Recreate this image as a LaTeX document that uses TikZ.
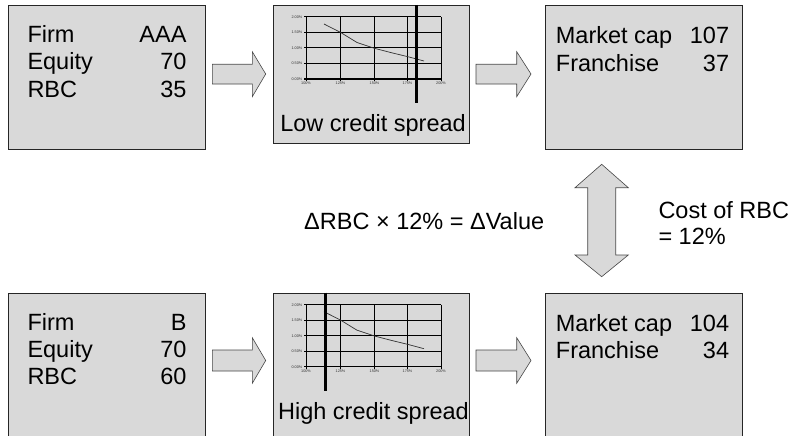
\documentclass[tikz,border=0pt]{standalone}
\usepackage{fontspec}
\setmainfont{Liberation Sans}
\definecolor{boxfill}{RGB}{217,217,217}
\definecolor{arrowline}{RGB}{70,70,70}
\begin{document}
\begin{tikzpicture}[x=1pt,y=-1pt,
  panel/.style={draw=black!85, line width=0.8pt, fill=boxfill, anchor=north west, inner sep=0pt, minimum width=196.5pt},
  txt/.style={font=\fontsize{23.5}{27}\selectfont, inner sep=0pt},
  blockarrow/.style={draw=arrowline, line width=0.6pt, fill=boxfill, line join=miter},
  grid/.style={draw=black, line width=1pt},
  tiny/.style={font=\fontsize{3.8}{4.5}\selectfont, inner sep=0.5pt, text=black!80},
  curve/.style={draw=black!80, line width=0.7pt},
  marker/.style={draw=black, line width=3.2pt}]
\useasboundingbox (0,0) rectangle (795,436);
\clip (0,0) rectangle (795,436);

% ---------- panels ----------
\node[panel, minimum height=144pt] (firmA) at (8.3,5) {};
\node[panel, minimum height=138pt] (chartA) at (272.7,5) {};
\node[panel, minimum height=144pt] (valA) at (545,5) {};
\node[panel, minimum height=160pt] (firmB) at (8.3,292.7) {};
\node[panel, minimum height=160pt] (chartB) at (272.7,292.7) {};
\node[panel, minimum height=160pt] (valB) at (545,292.7) {};

% ---------- texts top row ----------
\node[txt, anchor=base west] (a1) at (27.3,43) {Firm};
\node[txt, anchor=base east] (a1v) at (186.7,43) {AAA};
\node[txt, anchor=base west] (a2) at (27.3,70) {Equity};
\node[txt, anchor=base east] (a2v) at (186.7,70) {70};
\node[txt, anchor=base west] (a3) at (27.3,97) {RBC};
\node[txt, anchor=base east] (a3v) at (186.7,97) {35};

\node[txt, anchor=base west] (c1) at (555.7,43.3) {Market cap};
\node[txt, anchor=base east] (c1v) at (729.3,43.3) {107};
\node[txt, anchor=base west] (c2) at (555.7,71) {Franchise};
\node[txt, anchor=base east] (c2v) at (729.3,71) {37};

% ---------- texts bottom row ----------
\node[txt, anchor=base west] (b1) at (27.3,330.7) {Firm};
\node[txt, anchor=base east] (b1v) at (186.7,330.7) {B};
\node[txt, anchor=base west] (b2) at (27.3,357.7) {Equity};
\node[txt, anchor=base east] (b2v) at (186.7,357.7) {70};
\node[txt, anchor=base west] (b3) at (27.3,384.7) {RBC};
\node[txt, anchor=base east] (b3v) at (186.7,384.7) {60};

\node[txt, anchor=base west] (d1) at (555.7,331) {Market cap};
\node[txt, anchor=base east] (d1v) at (729.3,331) {104};
\node[txt, anchor=base west] (d2) at (555.7,358.7) {Franchise};
\node[txt, anchor=base east] (d2v) at (729.3,358.7) {34};

% ---------- charts ----------
\foreach \sh/\nm in {0/A,287.7/B}{
  \begin{scope}[shift={(0,\sh)}]
    \foreach \yy in {17,32.5,48,63.5,79}{
      \draw[grid] (304,\yy) -- (441,\yy);
    }
    \foreach \xx in {306,340.5,374.5,407.5,441}{
      \draw[grid] (\xx,17) -- (\xx,81);
    }
    \foreach \yy/\lab [count=\i] in {17/2.00\%,32.5/1.50\%,48/1.00\%,63.5/0.50\%,79/0.00\%}{
      \node[tiny, anchor=east] (yl\nm\i) at (303,\yy) {\lab};
    }
    \foreach \xx/\lab [count=\i] in {306/100\%,340.5/125\%,374.5/150\%,407.5/175\%,441/200\%}{
      \node[tiny, anchor=north] (xl\nm\i) at (\xx,81.5) {\lab};
    }
    \draw[curve] plot coordinates {(324,24) (340.7,32.5) (357,42.5) (374.5,48.3) (391,52.6) (407.5,56.6) (424,61)};
  \end{scope}
}
\draw[marker] (416.5,5) -- (416.5,103);
\draw[marker] (325.5,292.7) -- (325.5,390.7);

\node[txt, anchor=base] (lowcs) at (373,131.7) {Low credit spread};
\node[txt, anchor=base] (highcs) at (373.5,419) {High credit spread};

% ---------- block arrows ----------
\draw[blockarrow] (212.3,64.3) -- (252.3,64.3) -- (252.3,51.7) -- (265.7,74) -- (252.3,96.7) -- (252.3,84) -- (212.3,84) -- cycle;
\draw[blockarrow] (476,64.3) -- (516.7,64.3) -- (516.7,51.7) -- (531,74) -- (516.7,96.7) -- (516.7,84) -- (476,84) -- cycle;
\draw[blockarrow] (212.3,350) -- (252.3,350) -- (252.3,337.7) -- (265.7,360.5) -- (252.3,383.3) -- (252.3,371) -- (212.3,371) -- cycle;
\draw[blockarrow] (476,350) -- (516.7,350) -- (516.7,337.7) -- (531,360.5) -- (516.7,383.3) -- (516.7,371) -- (476,371) -- cycle;
\draw[blockarrow] (601.7,164.3) -- (628.3,187.7) -- (615.7,187.7) -- (615.7,255) -- (628.3,255) -- (601.7,276.7) -- (575,255) -- (587.7,255) -- (587.7,187.7) -- (575,187.7) -- cycle;

% ---------- middle labels ----------
\node[txt, anchor=base west] (formula) at (304,229.3) {ΔRBC × 12\% = ΔValue};
\node[txt, anchor=base west] (cost1) at (658.3,218.3) {Cost of RBC};
\node[txt, anchor=base west] (cost2) at (658.3,244) {= 12\%};
\end{tikzpicture}
\end{document}
